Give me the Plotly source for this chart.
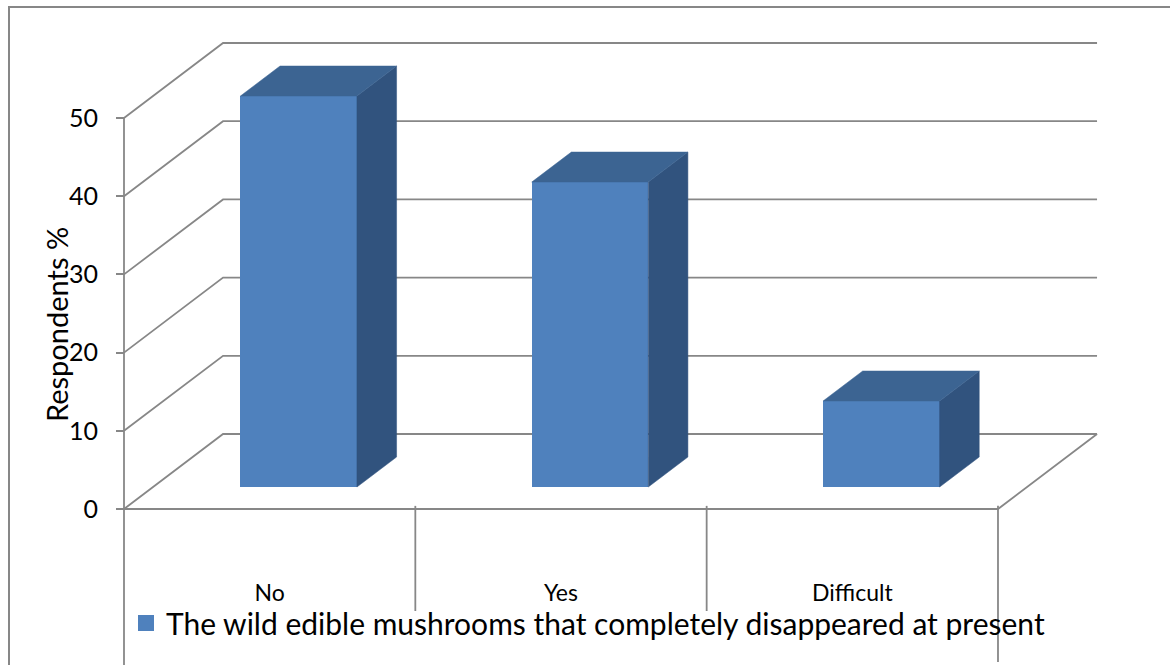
import plotly.graph_objects as go

# ---- data ----
categories = ["No", "Yes", "Difficult"]
values = [50, 39, 11]
series_name = "The wild edible mushrooms that completely disappeared at present"
y_ticks = [0, 10, 20, 30, 40, 50]
y_title = "Respondents %"

# ---- oblique 3D projection parameters (axis units) ----
DX = 0.34      # depth of floor in category units
DY = 9.59      # depth of floor in value units
D0 = 0.293     # bar front depth fraction
DD = 0.40      # bar depth fraction
BW = 0.40      # bar width (category units)

FRONT = "#4F81BD"
TOP = "#3C6492"
SIDE = "#31537E"
GRID = "#878787"
FONT = "Lato"

W, H = 1170, 665
PX_X0, PX_PER_CAT = 124, 291.33
PX_Y0, PX_PER_VAL = 509, 7.82
x_range = [-PX_X0 / PX_PER_CAT, (W - PX_X0) / PX_PER_CAT]
y_range = [(PX_Y0 - H) / PX_PER_VAL, PX_Y0 / PX_PER_VAL]

fig = go.Figure()
shapes = []

# back/side wall gridlines
for v in y_ticks:
    path = f"M 0,{v} L {DX},{v + DY} L {len(categories) + DX},{v + DY}"
    shapes.append(dict(type="path", xref="x", yref="y", path=path,
                       line=dict(color=GRID, width=1.8), layer="below"))
# floor front and right edges
n = len(categories)
shapes.append(dict(type="path", xref="x", yref="y",
                   path=f"M 0,0 L {n},0 L {n + DX},{DY}",
                   line=dict(color=GRID, width=1.8), layer="below"))
# left axis line and category dividers
y_bottom = y_range[0]
legend_top_val = (PX_Y0 - 611) / PX_PER_VAL
divider_ends = [y_bottom] + [legend_top_val] * (n - 1) + [(PX_Y0 - 662) / PX_PER_VAL]
shapes.append(dict(type="line", xref="x", yref="y", x0=0, x1=0, y0=y_ticks[-1], y1=y_bottom,
                   line=dict(color=GRID, width=1.8), layer="below"))
for i in range(1, n + 1):
    shapes.append(dict(type="line", xref="x", yref="y", x0=i, x1=i, y0=0.4, y1=divider_ends[i],
                       line=dict(color=GRID, width=1.8), layer="below"))
# outer chart border
shapes.append(dict(type="rect", xref="paper", yref="paper",
                   x0=9 / W, x1=1.02, y0=-0.02, y1=1 - 7 / H,
                   line=dict(color=GRID, width=2), layer="below"))

# bars: front faces
base = D0 * DY
xs_front = [i + 0.5 + D0 * DX for i in range(n)]
fig.add_trace(go.Bar(x=xs_front, y=values, base=[base] * n, width=BW,
                     marker=dict(color=FRONT, line=dict(width=0)),
                     showlegend=False, hoverinfo="skip"))

# side and top faces
for i, v in enumerate(values):
    xl = xs_front[i] - BW / 2
    xr = xs_front[i] + BW / 2
    top = base + v
    ddx, ddy = DD * DX, DD * DY
    fig.add_trace(go.Scatter(
        x=[xr, xr + ddx, xr + ddx, xr, xr],
        y=[base, base + ddy, top + ddy, top, base],
        fill="toself", fillcolor=SIDE, mode="lines",
        line=dict(color=SIDE, width=0.5), showlegend=False, hoverinfo="skip"))
    fig.add_trace(go.Scatter(
        x=[xl, xr, xr + ddx, xl + ddx, xl],
        y=[top, top, top + ddy, top + ddy, top],
        fill="toself", fillcolor=TOP, mode="lines",
        line=dict(color=TOP, width=0.5), showlegend=False, hoverinfo="skip"))

# legend entry
fig.add_trace(go.Scatter(x=[None], y=[None], mode="markers", name=series_name,
                         marker=dict(symbol="square", size=17, color=FRONT)))

# y-axis title
fig.add_annotation(text=y_title, xref="paper", yref="paper",
                   x=56 / W, y=1 - 325 / H, textangle=-90, showarrow=False,
                   font=dict(family=FONT, size=29, color="#000000"),
                   xanchor="center", yanchor="middle")

fig.update_layout(
    width=W, height=H,
    margin=dict(l=0, r=0, t=0, b=0),
    paper_bgcolor="white", plot_bgcolor="white",
    shapes=shapes,
    showlegend=True,
    legend=dict(x=126 / W, y=1 - 597 / H, xanchor="left", yanchor="top",
                font=dict(family=FONT, size=30, color="#000000"),
                bgcolor="rgba(0,0,0,0)", borderwidth=0),
    xaxis=dict(range=x_range, showgrid=False, zeroline=False, showline=False,
               tickvals=[i + 0.5 for i in range(n)], ticktext=categories,
               ticks="", anchor="free", position=(H - PX_Y0) / H,
               ticklabelstandoff=68,
               tickfont=dict(family=FONT, size=23, color="#000000")),
    yaxis=dict(range=y_range, showgrid=False, zeroline=False, showline=False,
               tickvals=y_ticks, ticks="outside", ticklen=8, tickwidth=1.8,
               tickcolor=GRID, anchor="free", position=PX_X0 / W,
               ticklabelstandoff=13,
               tickfont=dict(family=FONT, size=25, color="#000000")),
    bargap=0,
)

fig.write_html("out.html")
